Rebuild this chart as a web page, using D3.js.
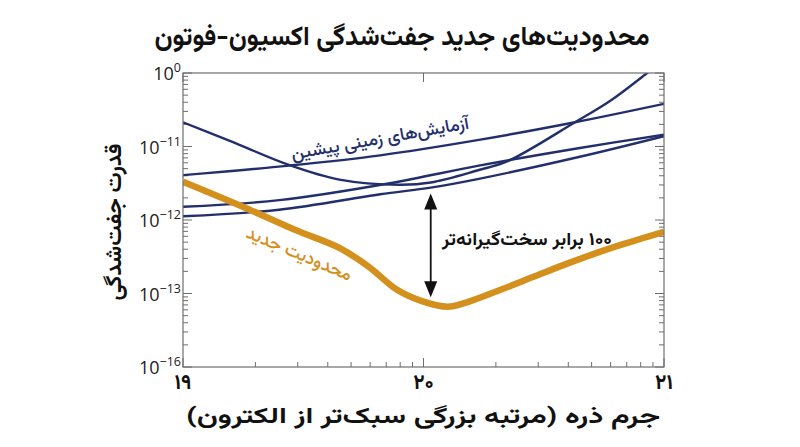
<!DOCTYPE html>
<html lang="fa">
<head>
<meta charset="utf-8">
<script src="https://cdn.jsdelivr.net/npm/d3@7"></script>
<style>
  html, body { margin: 0; padding: 0; background: #fff; }
  svg { display: block; }
  .fa { font-family: Vazirmatn, "Noto Sans Arabic", "DejaVu Sans", sans-serif; direction: rtl; }
  .num { font-family: "Open Sans", "Noto Sans", sans-serif; }
</style>
</head>
<body>
<svg id="chart" width="800" height="447"></svg>
<script>
// ---- 数据：x = log10(质量)，y = log10(耦合) ----
const newLimit = [
  [19.00, -11.48], [19.27, -11.85], [19.47, -12.14], [19.65, -12.38],
  [19.77, -12.63], [19.89, -12.95], [19.99, -13.10], [20.10, -13.18],
  [20.18, -13.12], [20.32, -12.95], [20.46, -12.77], [20.60, -12.59],
  [20.80, -12.36], [21.00, -12.16]
];
const priorU = [
  [19.00, -10.67], [19.20, -10.93], [19.44, -11.25], [19.65, -11.45],
  [19.90, -11.52], [20.03, -11.49], [20.23, -11.32], [20.35, -11.20],
  [20.63, -10.67], [20.78, -10.37], [20.93, -10.00], [21.02, -9.77]
];
const priorTop = [
  [19.00, -11.39], [19.44, -11.26], [19.82, -11.12], [20.23, -10.91],
  [20.63, -10.67], [21.00, -10.42]
];
const priorMid = [
  [19.00, -11.82], [19.40, -11.73], [19.86, -11.50], [20.23, -11.26],
  [20.65, -11.02], [21.00, -10.84]
];
const priorLow = [
  [19.00, -11.95], [19.40, -11.86], [19.82, -11.65], [20.03, -11.56],
  [20.23, -11.44], [20.65, -11.14], [21.00, -10.86]
];
const priorSeries = [priorU, priorTop, priorMid, priorLow];

const xTickValues = [1e19, 1e20, 1e21];
const xTickLabels = ["۱۹", "۲۰", "۲۱"];
const yTickValues = [1e-10, 1e-11, 1e-12, 1e-13, 1e-14];
const yTickExps = ["0", "−11", "−12", "−13", "−16"];

// 箭头：x 位置与上下端点（log10）
const arrowX = 20.03, arrowFrom = -11.64, arrowTo = -13.05;

const TITLE = "محدودیت\u200cهای جدید جفت\u200cشدگی اکسیون-فوتون";
const X_LABEL = "جرم ذره (مرتبه بزرگی سبک\u200cتر از الکترون)";
const Y_LABEL = "قدرت جفت\u200cشدگی";
const PRIOR_LABEL = "آزمایش\u200cهای زمینی پیشین";
const NEW_LABEL = "محدودیت جدید";
const ARROW_LABEL = "۱۰۰ برابر سخت\u200cگیرانه\u200cتر";

const BLUE = "#232f6c", ORANGE = "#d4901d", FRAME = "#6e6e6e";

const svg = d3.select("#chart");
const L = 183, R = 664, T = 73, B = 367;

const x = d3.scaleLog().domain([1e19, 1e21]).range([L, R]);
const y = d3.scaleLog().domain([1e-14, 1e-10]).range([B, T]);
const p10 = (e) => Math.pow(10, e);

// 波斯文字：按参考图宽度拉伸
function faText(sel, str, size, weight, width, fill) {
  return sel.append("text").attr("class", "fa").attr("text-anchor", "middle")
    .attr("font-size", size).attr("font-weight", weight).attr("fill", fill)
    .attr("textLength", width).attr("lengthAdjust", "spacingAndGlyphs").text(str);
}

// 标题
faText(svg, TITLE, 27, 700, 495, "#111").attr("x", 402).attr("y", 45);

// 裁剪区
svg.append("clipPath").attr("id", "plot-clip").append("rect")
  .attr("x", L).attr("y", T).attr("width", R - L).attr("height", B - T);

// ---- 刻度 ----
const isMajor = (v) => Math.abs(Math.log10(v) - Math.round(Math.log10(v))) < 1e-9;
const ticks = svg.append("g").attr("stroke", FRAME).attr("stroke-width", 1);
y.ticks().forEach((v) => {
  const len = isMajor(v) ? 9 : 5, yy = y(v);
  ticks.append("line").attr("x1", L).attr("x2", L + len).attr("y1", yy).attr("y2", yy);
  ticks.append("line").attr("x1", R).attr("x2", R - len).attr("y1", yy).attr("y2", yy);
});
x.ticks().forEach((v) => {
  const len = isMajor(v) ? 9 : 5, xx = x(v);
  ticks.append("line").attr("x1", xx).attr("x2", xx).attr("y1", B).attr("y2", B - len);
  if (isMajor(v)) ticks.append("line").attr("x1", xx).attr("x2", xx).attr("y1", T).attr("y2", T + len);
});

// y 轴标签
yTickValues.forEach((v, i) => {
  const t = svg.append("text").attr("class", "num").attr("x", 181).attr("y", y(v) + 7)
    .attr("text-anchor", "end").attr("font-size", 18).attr("fill", "#222");
  t.append("tspan").text("10");
  t.append("tspan").attr("dy", -8).attr("font-size", 12.5).text(yTickExps[i]);
});

// x 轴标签
xTickValues.forEach((v, i) => {
  svg.append("text").attr("class", "fa").attr("x", x(v)).attr("y", 389)
    .attr("text-anchor", "middle").attr("font-size", 21).attr("font-weight", 700)
    .attr("fill", "#111").text(xTickLabels[i]);
});

// 轴标题
faText(svg, X_LABEL, 22, 700, 474, "#111").attr("x", 423).attr("y", 423);
faText(svg, Y_LABEL, 22, 700, 157, "#111")
  .attr("transform", "translate(121,222) rotate(-90)");

// ---- 曲线 ----
const line = d3.line().x((d) => x(p10(d[0]))).y((d) => y(p10(d[1])))
  .curve(d3.curveCatmullRom.alpha(0.5));
const plot = svg.append("g").attr("clip-path", "url(#plot-clip)");
plot.selectAll("path.prior").data(priorSeries).join("path").attr("class", "prior")
  .attr("d", line).attr("fill", "none").attr("stroke", BLUE).attr("stroke-width", 2.4);
plot.append("path").attr("d", line(newLimit)).attr("fill", "none")
  .attr("stroke", ORANGE).attr("stroke-width", 6.5).attr("stroke-linecap", "butt");

// 边框
svg.append("rect").attr("x", L).attr("y", T).attr("width", R - L).attr("height", B - T)
  .attr("fill", "none").attr("stroke", FRAME).attr("stroke-width", 1.2);

// ---- 箭头 ----
const ax = x(p10(arrowX)), ay1 = y(p10(arrowFrom)), ay2 = y(p10(arrowTo));
const head = 16, hw = 6.5;
svg.append("line").attr("x1", ax).attr("x2", ax).attr("y1", ay1 + head - 2).attr("y2", ay2 - head + 2)
  .attr("stroke", "#111").attr("stroke-width", 1.8);
svg.append("path").attr("fill", "#111")
  .attr("d", `M${ax},${ay1} L${ax - hw},${ay1 + head} L${ax + hw},${ay1 + head} Z`);
svg.append("path").attr("fill", "#111")
  .attr("d", `M${ax},${ay2} L${ax - hw},${ay2 - head} L${ax + hw},${ay2 - head} Z`);

faText(svg, ARROW_LABEL, 18, 700, 170, "#111").attr("x", 527).attr("y", 245);

// 曲线标注
faText(svg, PRIOR_LABEL, 18, 500, 180, BLUE)
  .attr("transform", "translate(381,144) rotate(-10)");
faText(svg, NEW_LABEL, 18, 500, 113, ORANGE)
  .attr("transform", "translate(297,259) rotate(23)");
</script>
</body>
</html>
